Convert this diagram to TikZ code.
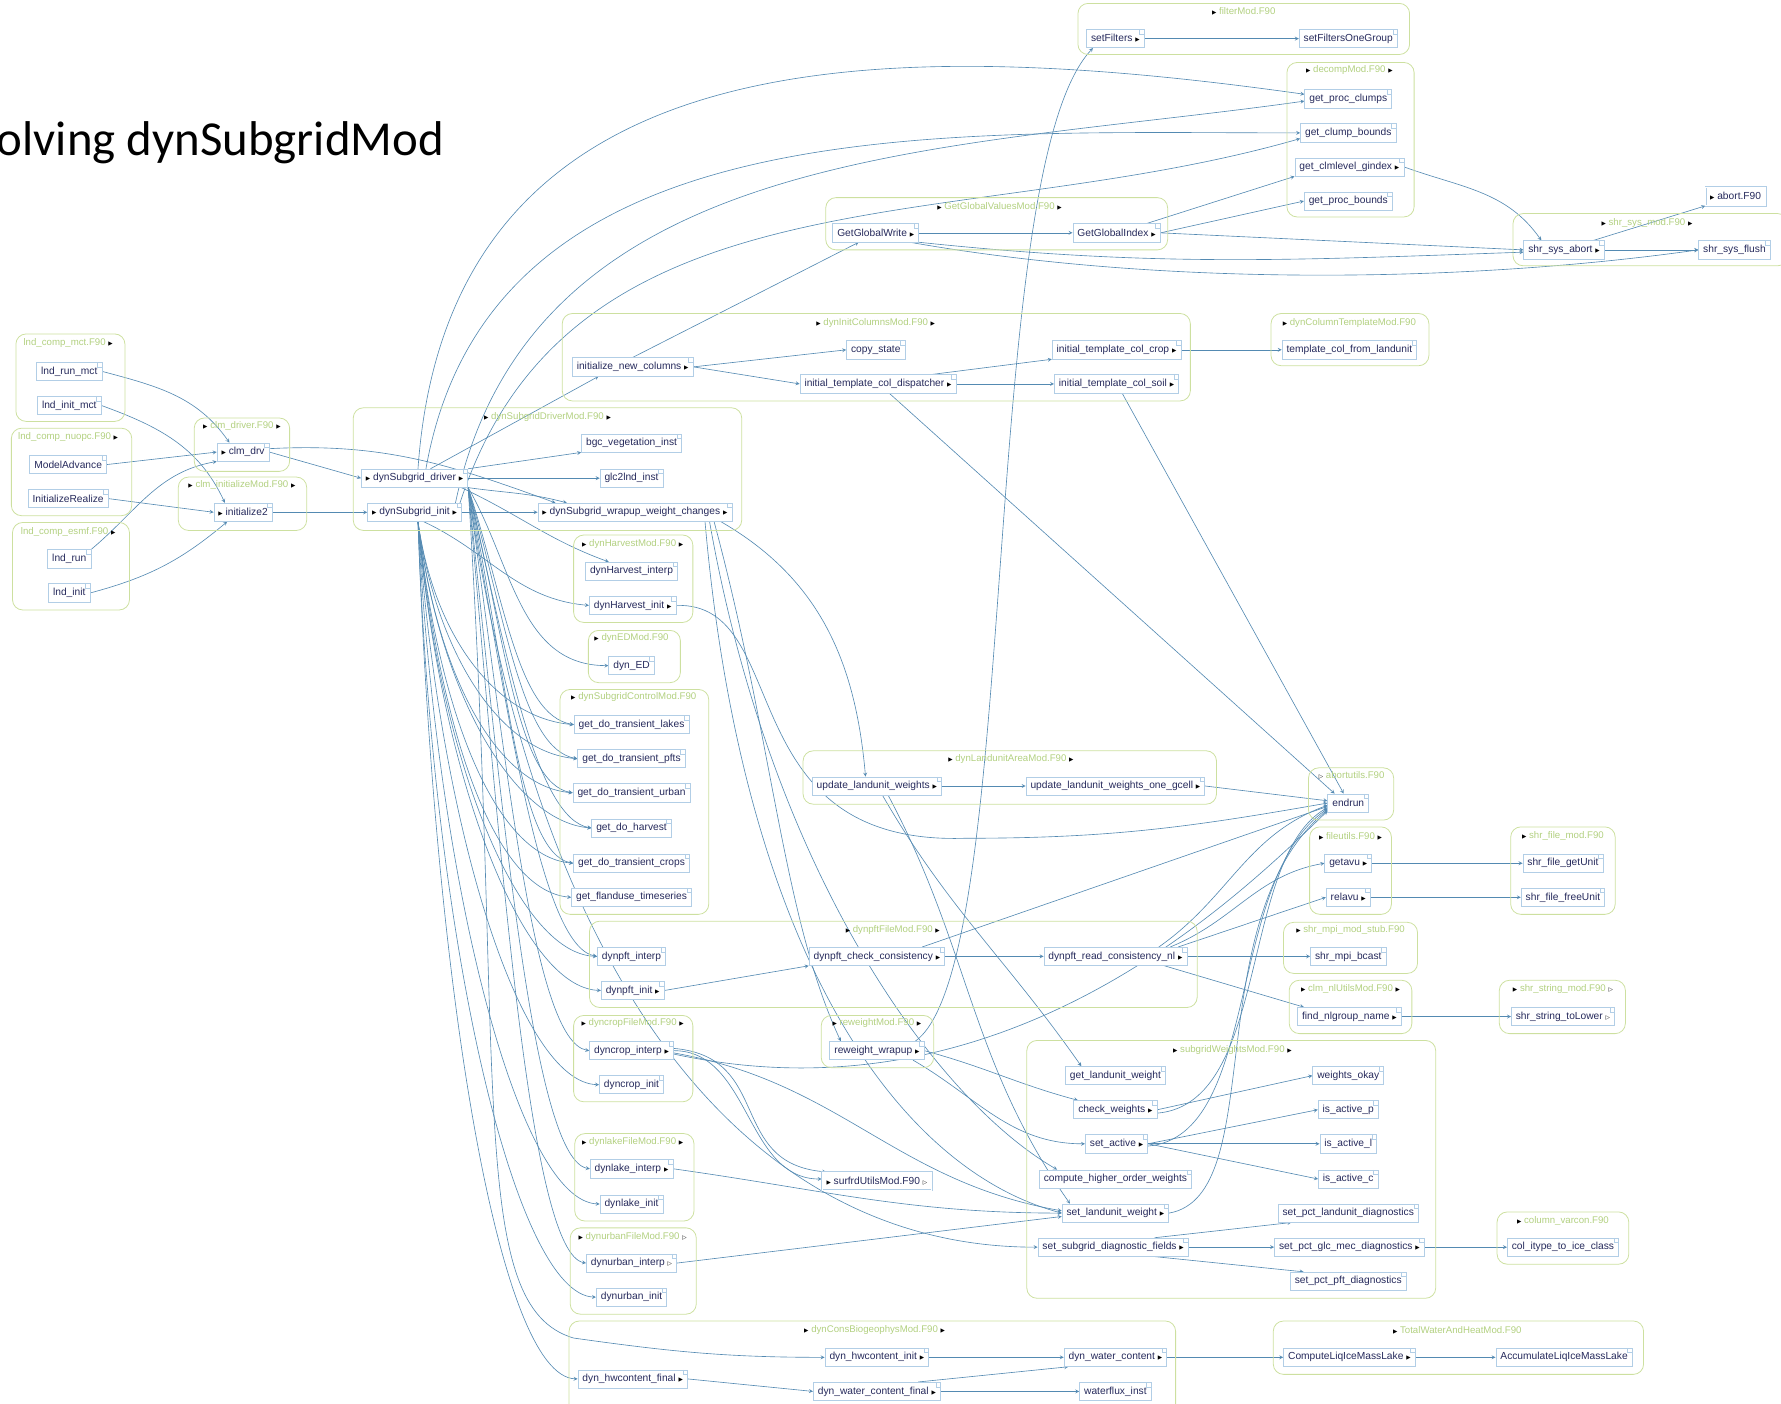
\documentclass[tikz,border=0pt]{standalone}
\usepackage{fontspec}
\setmainfont{Liberation Sans}
\newfontfamily\titlefont{Carlito}
\newfontfamily\symfont{DejaVu Sans}
\usetikzlibrary{shapes}
\usetikzlibrary{arrows}
\usetikzlibrary{positioning}
\pgfdeclarelayer{bg}
\pgfsetlayers{bg,main}
\definecolor{edgeblue}{RGB}{84,138,178}
\definecolor{noteline}{RGB}{178,206,230}
\definecolor{notetext}{RGB}{38,42,92}
\definecolor{modline}{RGB}{205,224,160}
\definecolor{modtext}{RGB}{178,208,128}
\newcommand{\mtri}{{\symfont\fontsize{5}{5}\selectfont\textcolor{black}{▶}}}
\newcommand{\htri}{{\symfont\fontsize{5}{5}\selectfont\textcolor{black}{▷}}}

\begin{document}
\begin{tikzpicture}[x=1pt,y=-1pt,
  fn/.style={draw=noteline, fill=white, text=notetext, line width=0.6pt,
    font=\fontsize{9}{10}\selectfont, inner xsep=4pt, inner ysep=1pt, minimum height=16pt,
    path picture={\draw[noteline] ([xshift=-4pt]path picture bounding box.north east) |- ([yshift=-4pt]path picture bounding box.north east);}},
  boxthree/.style={draw=noteline, fill=white, text=notetext, line width=0.5pt, double=white, double distance=0.7pt,
    font=\fontsize{9}{10}\selectfont, inner xsep=4pt, inner ysep=1pt, minimum height=16pt},
  mod/.style={draw=modline, line width=0.7pt, rounded corners=9pt},
  modname/.style={text=modtext, font=\fontsize{8.5}{9}\selectfont, inner sep=1pt},
  call/.style={draw=edgeblue, line width=0.55pt, -stealth}]
\useasboundingbox (0,0) rectangle (1568,1236);

\node[font=\titlefont\fontsize{43}{45}\selectfont, anchor=west, inner sep=0pt] (title) at (-3,126) {olving dynSubgridMod};

% module boxes
\draw[mod] (949,3) rectangle (1241,48);
\node[modname] (lblfilter) at (1095,10) {\mtri\ filterMod.F90};
\draw[mod] (1133,55) rectangle (1245,191);
\node[modname] (lbldecomp) at (1188,62) {\mtri\ decompMod.F90 \mtri};
\draw[mod] (727,174) rectangle (1028,220);
\node[modname] (lblglobal) at (880,182) {\mtri\ GetGlobalValuesMod.F90 \mtri};
\draw[mod] (1332,188) rectangle (1574,234);
\node[modname] (lblshrsys) at (1450,196) {\mtri\ shr\_sys\_mod.F90 \mtri};
\draw[mod] (14,294) rectangle (110,371);
\node[modname] (lblmct) at (60,302) {lnd\_comp\_mct.F90 \mtri};
\draw[mod] (10,377) rectangle (116,454);
\node[modname] (lblnuopc) at (60,385) {lnd\_comp\_nuopc.F90 \mtri};
\draw[mod] (11,460) rectangle (114,537);
\node[modname] (lblesmf) at (60,468) {lnd\_comp\_esmf.F90 \mtri};
\draw[mod] (171,368) rectangle (255,415);
\node[modname] (lbldriver) at (213,375) {\mtri\ clm\_driver.F90 \mtri};
\draw[mod] (157,420) rectangle (270,467);
\node[modname] (lblinitmod) at (213,427) {\mtri\ clm\_initializeMod.F90 \mtri};
\draw[mod] (311,359) rectangle (653,467);
\node[modname] (lblsubdrv) at (482,367) {\mtri\ dynSubgridDriverMod.F90 \mtri};
\draw[mod] (495,276) rectangle (1048,353);
\node[modname] (lblinitcol) at (771,284) {\mtri\ dynInitColumnsMod.F90 \mtri};
\draw[mod] (1119,276) rectangle (1258,322);
\node[modname] (lbltemplate) at (1188,284) {\mtri\ dynColumnTemplateMod.F90};
\draw[mod] (505,471) rectangle (610,548);
\node[modname] (lblharvest) at (557,479) {\mtri\ dynHarvestMod.F90 \mtri};
\draw[mod] (518,555) rectangle (599,601);
\node[modname] (lbled) at (556,562) {\mtri\ dynEDMod.F90};
\draw[mod] (493,607) rectangle (624,805);
\node[modname] (lblcontrol) at (558,614) {\mtri\ dynSubgridControlMod.F90};
\draw[mod] (519,811) rectangle (1054,887);
\node[modname] (lblpft) at (786,819) {\mtri\ dynpftFileMod.F90 \mtri};
\draw[mod] (707,661) rectangle (1071,708);
\node[modname] (lbllandunit) at (890,668) {\mtri\ dynLandunitAreaMod.F90 \mtri};
\draw[mod] (1152,676) rectangle (1227,722);
\node[modname] (lblabort) at (1190,683) {\htri\ abortutils.F90};
\draw[mod] (1153,728) rectangle (1225,805);
\node[modname] (lblfileutils) at (1189,736) {\mtri\ fileutils.F90 \mtri};
\draw[mod] (1330,728) rectangle (1422,805);
\node[modname] (lblshrfile) at (1376,736) {\mtri\ shr\_file\_mod.F90};
\draw[mod] (1130,812) rectangle (1248,857);
\node[modname] (lblmpi) at (1189,819) {\mtri\ shr\_mpi\_mod\_stub.F90};
\draw[mod] (1135,863) rectangle (1243,910);
\node[modname] (lblnlutils) at (1189,871) {\mtri\ clm\_nlUtilsMod.F90 \mtri};
\draw[mod] (1320,863) rectangle (1431,910);
\node[modname] (lblstring) at (1376,871) {\mtri\ shr\_string\_mod.F90 \htri};
\draw[mod] (904,916) rectangle (1264,1143);
\node[modname] (lblweights) at (1085,924) {\mtri\ subgridWeightsMod.F90 \mtri};
\draw[mod] (1318,1067) rectangle (1434,1113);
\node[modname] (lblvarcon) at (1376,1075) {\mtri\ column\_varcon.F90};
\draw[mod] (505,894) rectangle (610,970);
\node[modname] (lblcrop) at (557,901) {\mtri\ dyncropFileMod.F90 \mtri};
\draw[mod] (723,894) rectangle (822,940);
\node[modname] (lblreweight) at (772,901) {\mtri\ reweightMod.F90 \mtri};
\draw[mod] (506,998) rectangle (611,1075);
\node[modname] (lbllake) at (557,1005) {\mtri\ dynlakeFileMod.F90 \mtri};
\draw[mod] (502,1081) rectangle (613,1157);
\node[modname] (lblurban) at (557,1089) {\mtri\ dynurbanFileMod.F90 \htri};
\draw[mod] (501,1163) rectangle (1035,1246);
\node[modname] (lblcons) at (770,1171) {\mtri\ dynConsBiogeophysMod.F90 \mtri};
\draw[mod] (1121,1163) rectangle (1447,1210);
\node[modname] (lbltotal) at (1283,1171) {\mtri\ TotalWaterAndHeatMod.F90};

% routines
\node[fn] (setfilters) at (982,34) {setFilters \mtri};
\node[fn] (setfiltersone) at (1187,34) {setFiltersOneGroup};
\node[fn] (procclumps) at (1187,87) {get\_proc\_clumps};
\node[fn] (clumpbounds) at (1187,117) {get\_clump\_bounds};
\node[fn] (clmlevel) at (1188,147) {get\_clmlevel\_gindex \mtri};
\node[fn] (procbounds) at (1187,177) {get\_proc\_bounds};
\node[fn] (globalwrite) at (771,205) {GetGlobalWrite \mtri};
\node[fn] (globalindex) at (983,205) {GetGlobalIndex \mtri};
\node[boxthree] (abortf) at (1528,173) {\mtri\ abort.F90};
\node[fn] (sysabort) at (1377,220) {shr\_sys\_abort \mtri};
\node[fn] (sysflush) at (1527,220) {shr\_sys\_flush};

\node[fn] (lndrunmct) at (61,327) {lnd\_run\_mct};
\node[fn] (lndinitmct) at (61,357) {lnd\_init\_mct};
\node[fn] (modeladvance) at (60,409) {ModelAdvance};
\node[fn] (initrealize) at (60,439) {InitializeRealize};
\node[fn] (lndrun) at (61,492) {lnd\_run};
\node[fn] (lndinit) at (61,522) {lnd\_init};
\node[fn] (clmdrv) at (214,398) {\mtri\ clm\_drv};
\node[fn] (init2) at (214,451) {\mtri\ initialize2};

\node[fn] (driver) at (365,421) {\mtri\ dynSubgrid\_driver \mtri};
\node[fn] (init) at (365,451) {\mtri\ dynSubgrid\_init \mtri};
\node[fn] (bgcveg) at (556,390) {bgc\_vegetation\_inst};
\node[fn] (glc2lnd) at (556,421) {glc2lnd\_inst};
\node[fn] (wrapup) at (559,451) {\mtri\ dynSubgrid\_wrapup\_weight\_changes \mtri};

\node[fn] (initnewcols) at (557,323) {initialize\_new\_columns \mtri};
\node[fn] (copystate) at (771,308) {copy\_state};
\node[fn] (dispatcher) at (773,338) {initial\_template\_col\_dispatcher \mtri};
\node[fn] (colcrop) at (983,308) {initial\_template\_col\_crop \mtri};
\node[fn] (colsoil) at (983,338) {initial\_template\_col\_soil \mtri};
\node[fn] (templatecol) at (1188,308) {template\_col\_from\_landunit};

\node[fn] (harvinterp) at (556,503) {dynHarvest\_interp};
\node[fn] (harvinit) at (557,533) {dynHarvest\_init \mtri};
\node[fn] (dyned) at (556,586) {dyn\_ED};

\node[fn] (dotlakes) at (556,638) {get\_do\_transient\_lakes};
\node[fn] (dotpfts) at (556,668) {get\_do\_transient\_pfts};
\node[fn] (doturban) at (556,698) {get\_do\_transient\_urban};
\node[fn] (doharvest) at (556,729) {get\_do\_harvest};
\node[fn] (dotcrops) at (556,760) {get\_do\_transient\_crops};
\node[fn] (flanduse) at (556,790) {get\_flanduse\_timeseries};

\node[fn] (pftinterp) at (556,842) {dynpft\_interp};
\node[fn] (pftinit) at (557,872) {dynpft\_init \mtri};
\node[fn] (checkcons) at (772,842) {dynpft\_check\_consistency \mtri};
\node[fn] (readcons) at (982,842) {dynpft\_read\_consistency\_nl \mtri};

\node[fn] (landunitw) at (772,692) {update\_landunit\_weights \mtri};
\node[fn] (landunitgcell) at (982,692) {update\_landunit\_weights\_one\_gcell \mtri};

\node[fn] (endrun) at (1187,707) {endrun};
\node[fn] (getavu) at (1187,760) {getavu \mtri};
\node[fn] (relavu) at (1187,790) {relavu \mtri};
\node[fn] (getunit) at (1376,760) {shr\_file\_getUnit};
\node[fn] (freeunit) at (1376,790) {shr\_file\_freeUnit};
\node[fn] (mpibcast) at (1187,842) {shr\_mpi\_bcast};
\node[fn] (findnl) at (1188,895) {find\_nlgroup\_name \mtri};
\node[fn] (tolower) at (1376,895) {shr\_string\_toLower \htri};

\node[fn] (getlw) at (982,947) {get\_landunit\_weight};
\node[fn] (checkw) at (982,977) {check\_weights \mtri};
\node[fn] (setactive) at (983,1007) {set\_active \mtri};
\node[fn] (higherw) at (982,1038) {compute\_higher\_order\_weights};
\node[fn] (setlw) at (982,1068) {set\_landunit\_weight \mtri};
\node[fn] (setdiag) at (980,1098) {set\_subgrid\_diagnostic\_fields \mtri};
\node[fn] (wokay) at (1187,947) {weights\_okay};
\node[fn] (activep) at (1187,977) {is\_active\_p};
\node[fn] (activel) at (1187,1007) {is\_active\_l};
\node[fn] (activec) at (1187,1038) {is\_active\_c};
\node[fn] (pctlandunit) at (1187,1068) {set\_pct\_landunit\_diagnostics};
\node[fn] (pctglc) at (1188,1098) {set\_pct\_glc\_mec\_diagnostics \mtri};
\node[fn] (pctpft) at (1187,1128) {set\_pct\_pft\_diagnostics};
\node[fn] (icecls) at (1376,1098) {col\_itype\_to\_ice\_class};

\node[fn] (cropinterp) at (556,925) {dyncrop\_interp \mtri};
\node[fn] (cropinit) at (556,955) {dyncrop\_init};
\node[fn] (reweight) at (772,925) {reweight\_wrapup \mtri};
\node[boxthree] (surfrd) at (772,1040) {\mtri\ surfrdUtilsMod.F90 \htri};
\node[fn] (lakeinterp) at (556,1029) {dynlake\_interp \mtri};
\node[fn] (lakeinit) at (556,1060) {dynlake\_init};
\node[fn] (urbaninterp) at (556,1112) {dynurban\_interp \htri};
\node[fn] (urbaninit) at (556,1142) {dynurban\_init};

\node[fn] (hwinit) at (772,1195) {dyn\_hwcontent\_init \mtri};
\node[fn] (hwfinal) at (557,1214) {dyn\_hwcontent\_final \mtri};
\node[fn] (wcfinal) at (772,1225) {dyn\_water\_content\_final \mtri};
\node[fn] (wc) at (982,1195) {dyn\_water\_content \mtri};
\node[fn] (wflux) at (982,1225) {waterflux\_inst};
\node[fn] (liqice) at (1188,1195) {ComputeLiqIceMassLake \mtri};
\node[fn] (accliqice) at (1377,1195) {AccumulateLiqIceMassLake};

\begin{pgfonlayer}{bg}
% callers of the driver routines
\draw[call] (lndrunmct.east) to[out=-15,in=125] ([xshift=-12pt]clmdrv.north);
\draw[call] (lndinitmct.east) to[out=-20,in=115] ([xshift=-16pt]init2.north);
\draw[call] (modeladvance.east) -- (clmdrv.west);
\draw[call] (initrealize.east) -- (init2.west);
\draw[call] (lndrun.north east) to[out=40,in=190] (clmdrv.south west);
\draw[call] (lndinit.east) to[out=15,in=-140] ([xshift=-14pt]init2.south);
\draw[call] (clmdrv.east) -- (driver.west);
\draw[call] ([yshift=3pt]clmdrv.east) to[out=3,in=160] ([xshift=-70pt]wrapup.north);
\draw[call] (init2.east) -- (init.west);

% dynSubgrid_driver and dynSubgrid_init
\draw[call] (driver.north east) -- (bgcveg.south west);
\draw[call] (driver.east) -- (glc2lnd.west);
\draw[call] (driver.south east) to[out=-8,in=165] ([xshift=-60pt]wrapup.north);
\draw[call] (init.east) -- (wrapup.west);
\draw[call] ([xshift=14pt]driver.north) -- ([xshift=-30pt]initnewcols.south);
\draw[call] ([xshift=3pt]driver.north) to[out=86,in=172,looseness=1.15] ([yshift=4pt]procclumps.west);
\draw[call] ([xshift=10pt]driver.north) to[out=80,in=180] (clumpbounds.west);
\draw[call] ([xshift=36pt]init.north) to[out=78,in=188] ([yshift=-2pt]procclumps.west);
\draw[call] ([xshift=40pt]init.north) to[out=72,in=196] ([yshift=-5pt]clumpbounds.west);
\draw[call] ([xshift=-6pt]driver.south east) to[out=-25,in=160] ([xshift=-20pt]harvinterp.north);
\draw[call] ([xshift=8pt]init.south) to[out=-25,in=175] (harvinit.west);
\draw[call] (driver.south east) to[out=-60,in=180] (dyned.west);

\draw[call] (driver.south east) to[out=-72,in=170,out distance=105,in distance=50] (dotlakes.west);
\draw[call] (driver.south east) to[out=-74,in=170,out distance=120,in distance=50] (dotpfts.west);
\draw[call] (driver.south east) to[out=-76,in=170,out distance=135,in distance=50] (doturban.west);
\draw[call] (driver.south east) to[out=-77,in=170,out distance=150,in distance=50] (doharvest.west);
\draw[call] (driver.south east) to[out=-78,in=170,out distance=165,in distance=50] (dotcrops.west);
\draw[call] (driver.south east) to[out=-80,in=170,out distance=205,in distance=50] (pftinterp.west);
\draw[call] (driver.south east) to[out=-82,in=170,out distance=250,in distance=50] (cropinterp.west);
\draw[call] (driver.south east) to[out=-84,in=170,out distance=300,in distance=50] (lakeinterp.west);
\draw[call] (driver.south east) to[out=-85,in=170,out distance=340,in distance=50] (urbaninterp.west);
\draw[call] (driver.south east) .. controls (445,950) and (410,1150) .. (505,1178) to[out=-8,in=180] (hwinit.west);
\draw[call] (driver.south east) to[out=-82,in=180,out distance=450,in distance=250] (setdiag.west);

\draw[call] ([xshift=3pt]init.south) to[out=-82,in=175,out distance=100,in distance=70] (dotlakes.west);
\draw[call] ([xshift=3pt]init.south) to[out=-82,in=175,out distance=115,in distance=70] (dotpfts.west);
\draw[call] ([xshift=3pt]init.south) to[out=-83,in=175,out distance=130,in distance=70] (doturban.west);
\draw[call] ([xshift=3pt]init.south) to[out=-83,in=175,out distance=150,in distance=70] (doharvest.west);
\draw[call] ([xshift=3pt]init.south) to[out=-84,in=175,out distance=165,in distance=70] (dotcrops.west);
\draw[call] ([xshift=3pt]init.south) to[out=-84,in=175,out distance=180,in distance=70] (flanduse.west);
\draw[call] ([xshift=3pt]init.south) to[out=-85,in=178,out distance=210,in distance=70] (pftinterp.west);
\draw[call] ([xshift=3pt]init.south) to[out=-85,in=178,out distance=225,in distance=70] (pftinit.west);
\draw[call] ([xshift=3pt]init.south) to[out=-86,in=178,out distance=270,in distance=70] (cropinit.west);
\draw[call] ([xshift=3pt]init.south) to[out=-87,in=178,out distance=330,in distance=70] (lakeinit.west);
\draw[call] ([xshift=3pt]init.south) to[out=-88,in=178,out distance=380,in distance=70] (urbaninit.west);
\draw[call] ([xshift=3pt]init.south) to[out=-88,in=178,out distance=410,in distance=70] (hwfinal.west);

% dynSubgrid_wrapup_weight_changes
\draw[call] ([xshift=-10pt]wrapup.south east) to[out=-30,in=95] ([xshift=-10pt]landunitw.north);
\draw[call] ([xshift=-16pt]wrapup.south east) to[out=-75,in=115,out distance=200,in distance=120] ([xshift=10pt]reweight.north west);
\draw[call] ([xshift=-20pt]wrapup.south east) to[out=-80,in=150,out distance=320,in distance=120] ([xshift=16pt]higherw.north west);
\draw[call] ([xshift=-24pt]wrapup.south east) to[out=-85,in=165,out distance=380,in distance=150] (setlw.west);

% dynInitColumnsMod
\draw[call] (initnewcols.north) -- ([xshift=-15pt]globalwrite.south);
\draw[call] (initnewcols.east) -- (copystate.west);
\draw[call] (initnewcols.east) -- (dispatcher.west);
\draw[call] ([xshift=-22pt]dispatcher.north east) -- (colcrop.south west);
\draw[call] (dispatcher.east) -- (colsoil.west);
\draw[call] (colcrop.east) -- (templatecol.west);
\draw[call] ([xshift=10pt]dispatcher.south) -- ([xshift=-12pt]endrun.north);
\draw[call] ([xshift=5pt]colsoil.south) -- ([xshift=-4pt]endrun.north);

% global values and decomposition
\draw[call] (globalwrite.east) -- (globalindex.west);
\draw[call] (globalwrite.south east) to[out=-6,in=182] ([yshift=-2pt]sysabort.west);
\draw[call] ([xshift=-8pt]globalwrite.south east) to[out=-10,in=188,looseness=0.8] (sysflush.west);
\draw[call] ([xshift=-12pt]globalindex.north east) -- (clmlevel.south west);
\draw[call] (globalindex.east) -- (procbounds.west);
\draw[call] (globalindex.east) -- (sysabort.west);
\draw[call] (clmlevel.east) to[out=-20,in=125] ([xshift=-20pt]sysabort.north);
\draw[call] ([xshift=-10pt]sysabort.north east) -- (abortf.south west);
\draw[call] (sysabort.east) -- (sysflush.west);
\draw[call] (setfilters.east) -- (setfiltersone.west);

% dynLandunitAreaMod
\draw[call] (landunitw.east) -- (landunitgcell.west);
\draw[call] (landunitgcell.east) -- ([yshift=2pt]endrun.west);
\draw[call] ([xshift=5pt]landunitw.south) to[out=-60,in=125] ([xshift=-30pt]getlw.north);
\draw[call] ([xshift=10pt]landunitw.south) to[out=-62,in=125] ([xshift=-40pt]setlw.north);

% harvest and pft file routines
\draw[call] (harvinit.east) .. controls (700,530) and (640,745) .. (850,738) to[out=0,in=190] (endrun.west);
\draw[call] (pftinit.east) -- (checkcons.south west);
\draw[call] (checkcons.east) -- (readcons.west);
\draw[call] ([xshift=-20pt]checkcons.north east) -- ([yshift=-3pt]endrun.west);
\draw[call] ([xshift=-25pt]readcons.north east) to[out=35,in=200] ([yshift=-2pt]endrun.west);
\draw[call] ([xshift=-15pt]readcons.north east) to[out=22,in=190] (getavu.west);
\draw[call] ([xshift=-8pt]readcons.north east) -- (relavu.west);
\draw[call] (readcons.east) -- (mpibcast.west);
\draw[call] ([xshift=-20pt]readcons.south east) -- ([xshift=6pt]findnl.north west);
\draw[call] (getavu.east) -- (getunit.west);
\draw[call] (relavu.east) -- (freeunit.west);
\draw[call] (findnl.east) -- (tolower.west);

% subgrid weights
\draw[call] (checkw.east) -- (wokay.west);
\draw[call] ([yshift=-3pt]checkw.east) to[out=5,in=210,out distance=100,in distance=90] ([yshift=-4pt]endrun.west);
\draw[call] (setactive.east) -- (activep.west);
\draw[call] (setactive.east) -- (activel.west);
\draw[call] (setactive.east) -- (activec.west);
\draw[call] ([yshift=-2pt]setactive.east) to[out=5,in=215,out distance=100,in distance=110] ([yshift=-5pt]endrun.west);
\draw[call] (setlw.east) to[out=10,in=220,out distance=90,in distance=150] ([yshift=-6pt]endrun.west);
\draw[call] ([xshift=-30pt]setdiag.north east) -- ([xshift=12pt]pctlandunit.south west);
\draw[call] (setdiag.east) -- (pctglc.west);
\draw[call] ([xshift=-30pt]setdiag.south east) -- ([xshift=12pt]pctpft.north west);
\draw[call] (pctglc.east) -- (icecls.west);
\draw[call] (reweight.east) to[out=-15,in=165] ([xshift=4pt]checkw.north west);
\draw[call] ([xshift=-10pt]reweight.south east) to[out=-30,in=180] (setactive.west);
\draw[call] ([xshift=-8pt]reweight.north east) .. controls (900,850) and (860,150) .. ([xshift=6pt]setfilters.south west);

% crop, lake and urban file routines
\draw[call] (cropinterp.east) to[out=0,in=180] ([yshift=2pt]surfrd.west);
\draw[call] ([yshift=2pt]cropinterp.east) to[out=-5,in=175,looseness=1.3] ([xshift=4pt]surfrd.north west);
\draw[call] ([yshift=-3pt]cropinterp.east) .. controls (880,990) and (1080,800) .. ([yshift=-7pt]endrun.west);
\draw[call] ([yshift=-2pt]cropinterp.east) to[out=-10,in=170,out distance=150,in distance=150] ([yshift=2pt]setlw.west);
\draw[call] (lakeinterp.east) to[out=-8,in=180] (setlw.west);
\draw[call] (urbaninterp.east) -- ([yshift=-3pt]setlw.west);

% dynConsBiogeophysMod and TotalWaterAndHeatMod
\draw[call] (hwinit.east) -- (wc.west);
\draw[call] (hwfinal.east) -- (wcfinal.west);
\draw[call] ([xshift=-20pt]wcfinal.north east) -- ([xshift=4pt]wc.south west);
\draw[call] (wcfinal.east) -- (wflux.west);
\draw[call] (wc.east) -- (liqice.west);
\draw[call] (liqice.east) -- (accliqice.west);
\end{pgfonlayer}
\end{tikzpicture}
\end{document}
